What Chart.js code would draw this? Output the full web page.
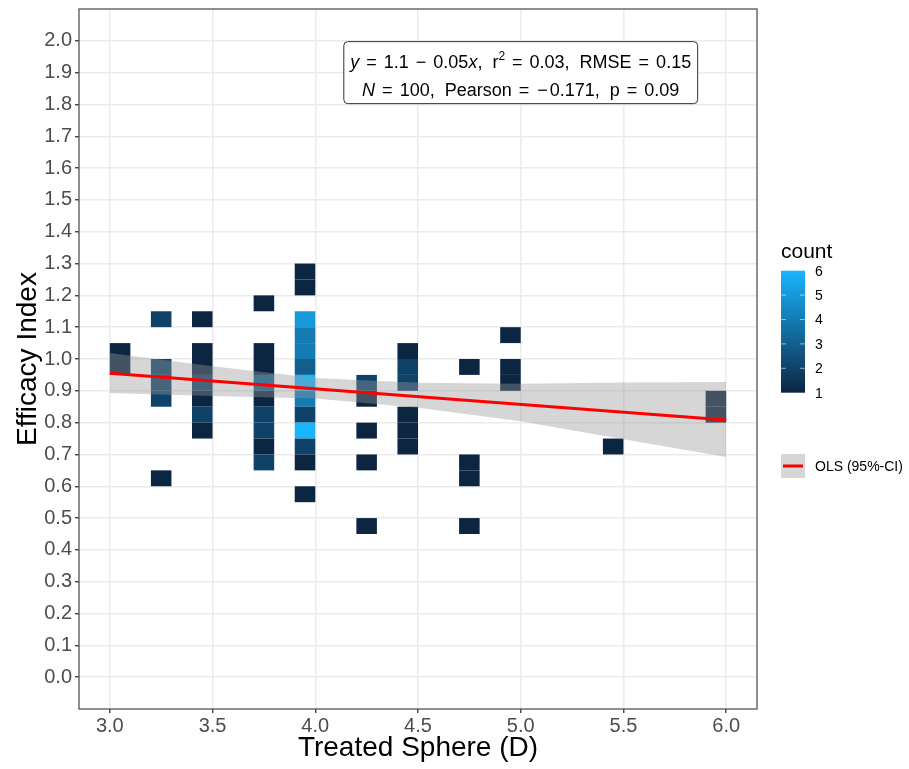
<!DOCTYPE html>
<html>
<head>
<meta charset="utf-8">
<script src="https://cdn.jsdelivr.net/npm/chart.js@4.4.1/dist/chart.umd.min.js"></script>
<style>
html,body{margin:0;padding:0;background:#ffffff;overflow:hidden;}
canvas{display:block;}
</style>
</head>
<body>
<canvas id="chart" width="909" height="769"></canvas>
<script>
// ---------------- data ----------------
// 2-D bins: left edge of the Treated Sphere bin, lower edge of the Efficacy Index bin, count
const tileSphereStart = [
  3.0, 3.0,
  3.2, 3.2, 3.2, 3.2, 3.2,
  3.4, 3.4, 3.4, 3.4, 3.4, 3.4, 3.4,
  3.7, 3.7, 3.7, 3.7, 3.7, 3.7, 3.7, 3.7, 3.7,
  3.9, 3.9, 3.9, 3.9, 3.9, 3.9, 3.9, 3.9, 3.9, 3.9, 3.9, 3.9, 3.9,
  4.2, 4.2, 4.2, 4.2, 4.2,
  4.4, 4.4, 4.4, 4.4, 4.4, 4.4,
  4.7, 4.7, 4.7, 4.7,
  4.9, 4.9, 4.9,
  5.4,
  5.9, 5.9
];
const tileEfficacyLow = [
  1.00, 0.95,
  1.10, 0.95, 0.90, 0.85, 0.60,
  1.10, 1.00, 0.95, 0.90, 0.85, 0.80, 0.75,
  1.15, 1.00, 0.95, 0.90, 0.85, 0.80, 0.75, 0.70, 0.65,
  1.25, 1.20, 1.10, 1.05, 1.00, 0.95, 0.90, 0.85, 0.80, 0.75, 0.70, 0.65, 0.55,
  0.90, 0.85, 0.75, 0.65, 0.45,
  1.00, 0.95, 0.90, 0.80, 0.75, 0.70,
  0.95, 0.65, 0.60, 0.45,
  1.05, 0.95, 0.90,
  0.70,
  0.85, 0.80
];
const tileCount = [
  1, 1,
  2, 2, 2, 2, 1,
  1, 1, 1, 2, 1, 2, 1,
  1, 1, 1, 3, 1, 2, 2, 1, 2,
  1, 1, 5, 4, 4, 3, 6, 4, 2, 6, 2, 1, 1,
  2, 1, 1, 1, 1,
  1, 2, 2, 1, 1, 1,
  1, 1, 1, 1,
  1, 1, 1,
  1,
  1, 1
];
const binWidthSphere = 0.1;
const binWidthEfficacy = 0.05;

// OLS fit line and its 95% confidence band
const fitSphere = [3.0, 6.0];
const fitEfficacy = [0.955, 0.808];
const ciSphere = [3.0, 3.5, 4.0, 4.5, 5.0, 5.5, 6.0];
const ciUpper  = [1.019, 0.977, 0.940, 0.925, 0.922, 0.926, 0.928];
const ciLower  = [0.893, 0.884, 0.876, 0.847, 0.804, 0.748, 0.692];

// colour bar breaks
const countBreaks = [1, 2, 3, 4, 5, 6];

// annotation (placed at data coordinates); 'op' marks math operators
const statsAnchor = {x: 5.0, y: 1.9};
const statsLine1 = [
  {t: 'y', it: true}, {t: '=', op: true}, {t: '1.1'}, {t: '\u2212', op: true}, {t: '0.05'},
  {t: 'x', it: true}, {t: ',  r'}, {t: '2', sup: true}, {t: '=', op: true}, {t: '0.03,  RMSE'},
  {t: '=', op: true}, {t: '0.15'}
];
const statsLine2 = [
  {t: 'N', it: true}, {t: '=', op: true}, {t: '100,  Pearson'}, {t: '=', op: true},
  {t: '\u2212', op: true, tight: true}, {t: '0.171,  p'}, {t: '=', op: true}, {t: '0.09'}
];

// ---------------- styling ----------------
const FONT = '"Liberation Sans", Arial, Helvetica, sans-serif';
const lowRGB = [12, 38, 66];
const highRGB = [26, 180, 255];
function countColor(c) {
  const t = (c - countBreaks[0]) / (countBreaks[countBreaks.length - 1] - countBreaks[0]);
  const rgb = lowRGB.map((v, i) => Math.round(v + (highRGB[i] - v) * t));
  return 'rgb(' + rgb.join(',') + ')';
}
const ribbonFill = 'rgba(153,153,153,0.4)';

const tileData = tileSphereStart.map((x, i) => ({
  x: x + binWidthSphere / 2,
  y: [tileEfficacyLow[i], tileEfficacyLow[i] + binWidthEfficacy]
}));

const overlay = {
  id: 'overlay',
  afterDatasetsDraw(chart) {
    const ctx = chart.ctx;
    const xs = chart.scales.x, ys = chart.scales.y;
    const ca = chart.chartArea;
    const cx = xs.getPixelForValue(statsAnchor.x);
    const cy = ys.getPixelForValue(statsAnchor.y);
    const fontFor = s => (s.it ? 'italic ' : '') + (s.sup ? '12px ' : '18px ') + FONT;
    const OPPAD = 7;
    function measure(segs) {
      let w = 0;
      segs.forEach(s => {
        ctx.font = fontFor(s);
        s.w = ctx.measureText(s.t).width;
        s.padL = s.op ? (s.tight ? 1 : OPPAD) : 0;
        s.padR = s.op ? (s.tight ? 2 : OPPAD) : 0;
        w += s.w + s.padL + s.padR;
      });
      return w;
    }
    const w1 = measure(statsLine1), w2 = measure(statsLine2);
    const bw = Math.max(w1, w2) + 13;
    const bx = cx - bw / 2, by = cy - 31, bh = 62;
    ctx.save();
    ctx.beginPath();
    ctx.roundRect(bx, by, bw, bh, 4);
    ctx.fillStyle = '#ffffff';
    ctx.fill();
    ctx.lineWidth = 1;
    ctx.strokeStyle = '#333333';
    ctx.stroke();
    ctx.fillStyle = '#000000';
    ctx.textBaseline = 'alphabetic';
    ctx.textAlign = 'left';
    function drawLine(segs, total, base) {
      let x = cx - total / 2;
      segs.forEach(s => {
        ctx.font = fontFor(s);
        x += s.padL;
        ctx.fillText(s.t, x, s.sup ? base - 8 : base);
        x += s.w + s.padR;
      });
    }
    drawLine(statsLine1, w1, cy - 5);
    drawLine(statsLine2, w2, cy + 23);
    // panel border
    ctx.lineWidth = 1.3;
    ctx.strokeStyle = '#555555';
    ctx.strokeRect(ca.left, ca.top, ca.right - ca.left, ca.bottom - ca.top);
    ctx.restore();
  },
  afterDraw(chart) {
    const ctx = chart.ctx;
    ctx.save();
    // colour bar legend
    ctx.fillStyle = '#000000';
    ctx.font = '21px ' + FONT;
    ctx.textAlign = 'left';
    ctx.textBaseline = 'alphabetic';
    ctx.fillText('count', 781, 258);
    const barL = 781, barR = 805, barTop = 270.7, barBot = 392.7;
    const step = (barBot - barTop) / (countBreaks.length - 1);
    const grad = ctx.createLinearGradient(0, barBot, 0, barTop);
    countBreaks.forEach((c, i) => grad.addColorStop(i / (countBreaks.length - 1), countColor(c)));
    ctx.fillStyle = grad;
    ctx.fillRect(barL, barTop, barR - barL, barBot - barTop);
    ctx.strokeStyle = 'rgba(255,255,255,0.55)';
    ctx.lineWidth = 1;
    ctx.font = '14px ' + FONT;
    ctx.textBaseline = 'middle';
    countBreaks.forEach((c, i) => {
      const y = barBot - i * step;
      if (i > 0 && i < countBreaks.length - 1) {
        ctx.beginPath();
        ctx.moveTo(barL, y); ctx.lineTo(barL + 5, y);
        ctx.moveTo(barR - 5, y); ctx.lineTo(barR, y);
        ctx.stroke();
      }
      ctx.fillStyle = '#000000';
      ctx.fillText(String(c), 815, y + 1);
    });
    // OLS legend key
    ctx.fillStyle = ribbonFill;
    ctx.fillRect(781, 454, 24, 24);
    ctx.strokeStyle = '#ff0000';
    ctx.lineWidth = 3;
    ctx.beginPath();
    ctx.moveTo(783, 466); ctx.lineTo(803, 466);
    ctx.stroke();
    ctx.fillStyle = '#000000';
    ctx.fillText('OLS (95%-CI)', 815, 467);
    ctx.restore();
  }
};

function keepTicks(lo, hi) {
  return function (scale) {
    scale.ticks = scale.ticks.filter(t => t.value > lo - 1e-9 && t.value < hi + 1e-9);
  };
}

new Chart(document.getElementById('chart'), {
  type: 'bar',
  data: {
    datasets: [
      {
        type: 'bar',
        label: 'count',
        data: tileData,
        backgroundColor: tileCount.map(countColor),
        borderWidth: 0,
        categoryPercentage: 1.0,
        barPercentage: 0.5,
        grouped: false,
        order: 3
      },
      {
        type: 'line',
        label: 'CI upper',
        data: ciSphere.map((x, i) => ({x: x, y: ciUpper[i]})),
        borderWidth: 0,
        pointRadius: 0,
        backgroundColor: ribbonFill,
        fill: '+1',
        order: 2
      },
      {
        type: 'line',
        label: 'CI lower',
        data: ciSphere.map((x, i) => ({x: x, y: ciLower[i]})),
        borderWidth: 0,
        pointRadius: 0,
        fill: false,
        order: 2
      },
      {
        type: 'line',
        label: 'OLS (95%-CI)',
        data: fitSphere.map((x, i) => ({x: x, y: fitEfficacy[i]})),
        borderColor: '#ff0000',
        borderWidth: 3,
        pointRadius: 0,
        fill: false,
        order: 1
      }
    ]
  },
  options: {
    responsive: false,
    animation: false,
    devicePixelRatio: 1,
    layout: {padding: {left: 0, right: 152, top: 9, bottom: 0}},
    plugins: {legend: {display: false}, tooltip: {enabled: false}},
    scales: {
      x: {
        type: 'linear',
        min: 2.85,
        max: 6.15,
        offset: false,
        afterBuildTicks: keepTicks(3.0, 6.0),
        afterFit(s) { s.height = 60; s.paddingLeft = 0; s.paddingRight = 0; },
        ticks: {
          stepSize: 0.5,
          includeBounds: false,
          padding: 1,
          color: '#4d4d4d',
          font: {family: FONT, size: 20},
          callback: v => Number(v).toFixed(1)
        },
        grid: {color: '#ebebeb', lineWidth: 1.5, tickColor: '#333333', tickLength: 4, tickWidth: 1.3, offset: false},
        border: {display: false},
        title: {display: true, text: 'Treated Sphere (D)', color: '#000000', font: {family: FONT, size: 28}, padding: {top: 0, bottom: 4}}
      },
      y: {
        type: 'linear',
        min: -0.1,
        max: 2.1,
        afterBuildTicks: keepTicks(0.0, 2.0),
        afterFit(s) { s.width = 79; s.paddingTop = 0; s.paddingBottom = 0; },
        ticks: {
          stepSize: 0.1,
          includeBounds: false,
          padding: 3,
          color: '#4d4d4d',
          font: {family: FONT, size: 20},
          callback: v => Number(v).toFixed(1)
        },
        grid: {color: '#ebebeb', lineWidth: 1.5, tickColor: '#333333', tickLength: 4, tickWidth: 1.3},
        border: {display: false},
        title: {display: true, text: 'Efficacy Index', color: '#000000', font: {family: FONT, size: 28}, padding: {top: 11, bottom: 0}}
      }
    }
  },
  plugins: [overlay]
});
</script>
</body>
</html>
